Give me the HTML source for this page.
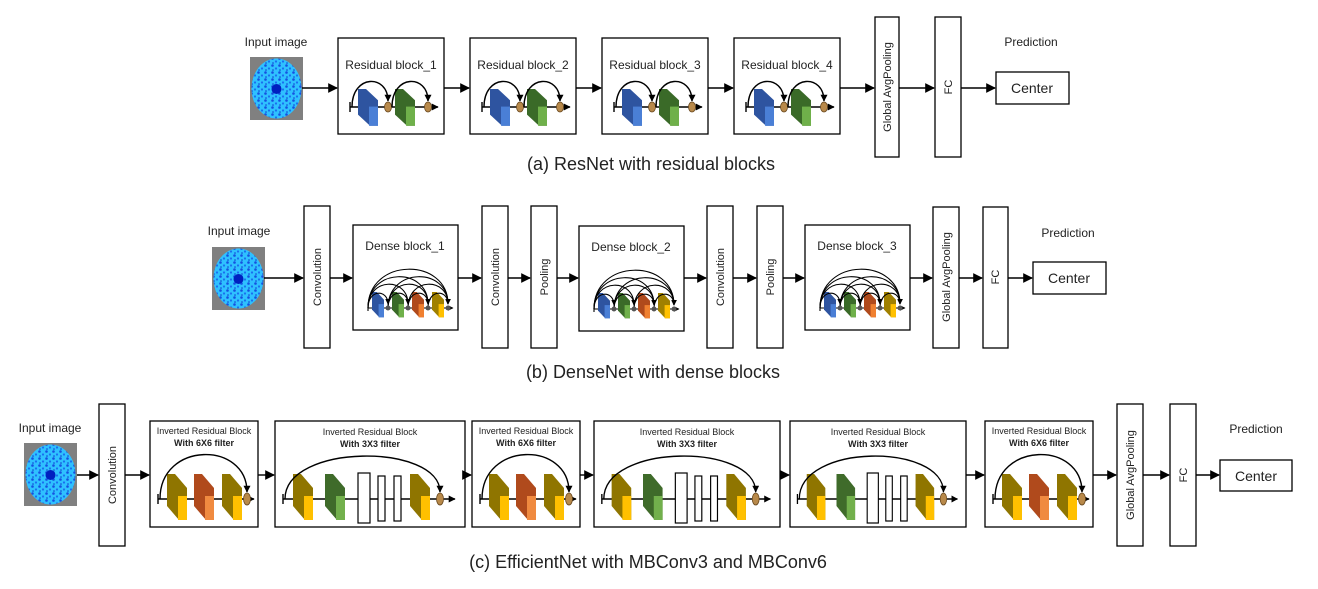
<!DOCTYPE html>
<html><head><meta charset="utf-8"><style>
html,body{margin:0;padding:0;background:#fff;}
svg{display:block;}
text{font-family:"Liberation Sans","DejaVu Sans",sans-serif;fill:#222;}
</style></head><body>
<svg width="1318" height="589" viewBox="0 0 1318 589" xmlns="http://www.w3.org/2000/svg">
<defs>
<marker id="ar" viewBox="0 0 10 10" refX="9" refY="5" markerWidth="7" markerHeight="7" orient="auto-start-reverse"><path d="M0,0 L10,5 L0,10 z" fill="#000"/></marker>
<marker id="sa" viewBox="0 0 10 10" refX="9" refY="5" markerWidth="5" markerHeight="5" orient="auto"><path d="M0,0 L10,5 L0,10 z" fill="#000"/></marker>
<pattern id="spk" width="7" height="7" patternUnits="userSpaceOnUse">
<rect width="7" height="7" fill="#2fc0ff"/>
<circle cx="1.5" cy="1.5" r="1.3" fill="#1550e0"/>
<circle cx="5" cy="4.5" r="1.1" fill="#1a6ef0"/>
<circle cx="2" cy="6" r="0.8" fill="#0d3fd0"/>
</pattern>
<g id="img">
<rect x="0" y="0" width="53" height="63" fill="#808080"/>
<ellipse cx="26.5" cy="31.5" rx="25" ry="30" fill="url(#spk)"/>
<circle cx="26.5" cy="32" r="5" fill="#0020c0"/>
</g>
<g id="pr">
<polygon points="0,0 8,0 20,14 20,46 12,46 0,32"/>
<rect x="11" y="22" width="9" height="24" fill="currentColor"/>
</g>
<g id="resin" fill="none" stroke="#000" stroke-width="1.4">
<line x1="12" y1="64" x2="12" y2="74"/>
<line x1="12" y1="69" x2="100" y2="69" marker-end="url(#sa)"/>
<use href="#pr" fill="#2e54a0" color="#4a7fd6" stroke="none" transform="translate(20,51) scale(1,0.8)"/>
<use href="#pr" fill="#3a6a28" color="#6fb04a" stroke="none" transform="translate(57,51) scale(1,0.8)"/>
<ellipse cx="50" cy="69" rx="3.5" ry="5" fill="#b8894a" stroke="#6b4a20" stroke-width="0.8"/>
<ellipse cx="90" cy="69" rx="3.5" ry="5" fill="#b8894a" stroke="#6b4a20" stroke-width="0.8"/>
<path d="M14,69 C14,36 50,36 50,63" marker-end="url(#sa)"/>
<path d="M54,69 C54,36 90,36 90,63" marker-end="url(#sa)"/>
</g>
<g id="densein" fill="none" stroke="#000" stroke-width="1.1">
<line x1="15" y1="79" x2="15" y2="86"/>
<line x1="15" y1="83" x2="100" y2="83" marker-end="url(#sa)"/>
<use href="#pr" fill="#2e54a0" color="#4a7fd6" stroke="none" transform="translate(19,67) scale(0.6,0.55)"/>
<use href="#pr" fill="#3a6a28" color="#6fb04a" stroke="none" transform="translate(39,67) scale(0.6,0.55)"/>
<use href="#pr" fill="#b04a1c" color="#f08030" stroke="none" transform="translate(59,67) scale(0.6,0.55)"/>
<use href="#pr" fill="#a08000" color="#ffc000" stroke="none" transform="translate(79,67) scale(0.6,0.55)"/>
<path d="M15,83 C15,64 35,64 35,79" marker-end="url(#sa)"/>
<path d="M15,83 C15,52 55,52 55,79" marker-end="url(#sa)"/>
<path d="M15,83 C15,42 75,42 75,79" marker-end="url(#sa)"/>
<path d="M15,83 C15,32 95,32 95,79" marker-end="url(#sa)"/>
<path d="M35,83 C35,64 55,64 55,79" marker-end="url(#sa)"/>
<path d="M35,83 C35,52 75,52 75,79" marker-end="url(#sa)"/>
<path d="M35,83 C35,42 95,42 95,79" marker-end="url(#sa)"/>
<path d="M55,83 C55,64 75,64 75,79" marker-end="url(#sa)"/>
<path d="M55,83 C55,52 95,52 95,79" marker-end="url(#sa)"/>
<path d="M75,83 C75,64 95,64 95,79" marker-end="url(#sa)"/>
<circle cx="35" cy="83" r="2.5" fill="#555" stroke="none"/>
<circle cx="55" cy="83" r="2.5" fill="#555" stroke="none"/>
<circle cx="75" cy="83" r="2.5" fill="#555" stroke="none"/>
<circle cx="95" cy="83" r="2.5" fill="#555" stroke="none"/>
</g>
<g id="eff6" fill="none" stroke="#000" stroke-width="1.4">
<line x1="8" y1="73" x2="8" y2="83"/>
<line x1="8" y1="78" x2="104" y2="78" marker-end="url(#sa)"/>
<use href="#pr" fill="#8f7500" color="#ffc000" stroke="none" transform="translate(17,53)"/>
<use href="#pr" fill="#b04a1c" color="#f08a40" stroke="none" transform="translate(44,53)"/>
<use href="#pr" fill="#8f7500" color="#ffc000" stroke="none" transform="translate(72,53)"/>
<ellipse cx="97" cy="78" rx="3.5" ry="6" fill="#b8894a" stroke="#6b4a20" stroke-width="0.8"/>
<path d="M10,78 C10,20 97,20 97,71" marker-end="url(#sa)"/>
</g>
<g id="eff3" fill="none" stroke="#000" stroke-width="1.4">
<line x1="8" y1="73" x2="8" y2="83"/>
<line x1="8" y1="78" x2="180" y2="78" marker-end="url(#sa)"/>
<use href="#pr" fill="#8f7500" color="#ffc000" stroke="none" transform="translate(18,53)"/>
<use href="#pr" fill="#3f6b2a" color="#72b04c" stroke="none" transform="translate(50,53)"/>
<rect x="83" y="52" width="12" height="50" fill="#fff" stroke-width="1.2"/>
<rect x="103" y="55" width="7" height="45" fill="#fff" stroke-width="1.2"/>
<rect x="119" y="55" width="7" height="45" fill="#fff" stroke-width="1.2"/>
<use href="#pr" fill="#8f7500" color="#ffc000" stroke="none" transform="translate(135,53)"/>
<ellipse cx="165" cy="78" rx="3.5" ry="6" fill="#b8894a" stroke="#6b4a20" stroke-width="0.8"/>
<path d="M10,78 C10,22 165,22 165,71" marker-end="url(#sa)"/>
</g>
</defs>

<!-- ROW A -->
<text x="276" y="46" font-size="12" text-anchor="middle">Input image</text>
<use href="#img" transform="translate(250,57)"/>
<g fill="#fff" stroke="#000" stroke-width="1.3">
<rect x="338" y="38" width="106" height="96"/>
<rect x="470" y="38" width="106" height="96"/>
<rect x="602" y="38" width="106" height="96"/>
<rect x="734" y="38" width="106" height="96"/>
<rect x="875" y="17" width="24" height="140"/>
<rect x="935" y="17" width="26" height="140"/>
<rect x="996" y="72" width="73" height="32"/>
</g>
<text x="391" y="69" font-size="12" text-anchor="middle">Residual block_1</text>
<text x="523" y="69" font-size="12" text-anchor="middle">Residual block_2</text>
<text x="655" y="69" font-size="12" text-anchor="middle">Residual block_3</text>
<text x="787" y="69" font-size="12" text-anchor="middle">Residual block_4</text>
<use href="#resin" transform="translate(338,38)"/>
<use href="#resin" transform="translate(470,38)"/>
<use href="#resin" transform="translate(602,38)"/>
<use href="#resin" transform="translate(734,38)"/>
<text transform="translate(891,87) rotate(-90)" font-size="11" text-anchor="middle">Global AvgPooling</text>
<text transform="translate(952,87) rotate(-90)" font-size="11" text-anchor="middle">FC</text>
<text x="1032" y="93" font-size="14" text-anchor="middle">Center</text>
<text x="1031" y="46" font-size="12" text-anchor="middle">Prediction</text>
<g stroke="#000" stroke-width="1.4" marker-end="url(#ar)">
<line x1="302" y1="88" x2="337" y2="88"/>
<line x1="444" y1="88" x2="469" y2="88"/>
<line x1="576" y1="88" x2="601" y2="88"/>
<line x1="708" y1="88" x2="733" y2="88"/>
<line x1="840" y1="88" x2="874" y2="88"/>
<line x1="899" y1="88" x2="934" y2="88"/>
<line x1="961" y1="88" x2="995" y2="88"/>
</g>
<text x="651" y="170" font-size="18" text-anchor="middle">(a) ResNet with residual blocks</text>

<!-- ROW B -->
<text x="239" y="235" font-size="12" text-anchor="middle">Input image</text>
<use href="#img" transform="translate(212,247)"/>
<g fill="#fff" stroke="#000" stroke-width="1.3">
<rect x="304" y="206" width="26" height="142"/>
<rect x="353" y="225" width="105" height="105"/>
<rect x="482" y="206" width="26" height="142"/>
<rect x="531" y="206" width="26" height="142"/>
<rect x="579" y="226" width="105" height="105"/>
<rect x="707" y="206" width="26" height="142"/>
<rect x="757" y="206" width="26" height="142"/>
<rect x="805" y="225" width="105" height="105"/>
<rect x="933" y="207" width="26" height="141"/>
<rect x="983" y="207" width="25" height="141"/>
<rect x="1033" y="262" width="73" height="32"/>
</g>
<text x="405" y="250" font-size="12" text-anchor="middle">Dense block_1</text>
<text x="631" y="251" font-size="12" text-anchor="middle">Dense block_2</text>
<text x="857" y="250" font-size="12" text-anchor="middle">Dense block_3</text>
<use href="#densein" transform="translate(353,225)"/>
<use href="#densein" transform="translate(579,226)"/>
<use href="#densein" transform="translate(805,225)"/>
<g font-size="11" text-anchor="middle">
<text transform="translate(321,277) rotate(-90)">Convolution</text>
<text transform="translate(499,277) rotate(-90)">Convolution</text>
<text transform="translate(548,277) rotate(-90)">Pooling</text>
<text transform="translate(724,277) rotate(-90)">Convolution</text>
<text transform="translate(774,277) rotate(-90)">Pooling</text>
<text transform="translate(950,277) rotate(-90)">Global AvgPooling</text>
<text transform="translate(999,277) rotate(-90)">FC</text>
</g>
<text x="1069" y="283" font-size="14" text-anchor="middle">Center</text>
<text x="1068" y="237" font-size="12" text-anchor="middle">Prediction</text>
<g stroke="#000" stroke-width="1.4" marker-end="url(#ar)">
<line x1="264" y1="278" x2="303" y2="278"/>
<line x1="330" y1="278" x2="352" y2="278"/>
<line x1="458" y1="278" x2="481" y2="278"/>
<line x1="508" y1="278" x2="530" y2="278"/>
<line x1="557" y1="278" x2="578" y2="278"/>
<line x1="684" y1="278" x2="706" y2="278"/>
<line x1="733" y1="278" x2="756" y2="278"/>
<line x1="783" y1="278" x2="804" y2="278"/>
<line x1="910" y1="278" x2="932" y2="278"/>
<line x1="959" y1="278" x2="982" y2="278"/>
<line x1="1008" y1="278" x2="1032" y2="278"/>
</g>
<text x="653" y="378" font-size="18" text-anchor="middle">(b) DenseNet with dense blocks</text>

<!-- ROW C -->
<text x="50" y="432" font-size="12" text-anchor="middle">Input image</text>
<use href="#img" transform="translate(24,443)"/>
<g fill="#fff" stroke="#000" stroke-width="1.3">
<rect x="99" y="404" width="26" height="142"/>
<rect x="150" y="421" width="108" height="106"/>
<rect x="275" y="421" width="190" height="106"/>
<rect x="472" y="421" width="108" height="106"/>
<rect x="594" y="421" width="186" height="106"/>
<rect x="790" y="421" width="176" height="106"/>
<rect x="985" y="421" width="108" height="106"/>
<rect x="1117" y="404" width="26" height="142"/>
<rect x="1170" y="404" width="26" height="142"/>
<rect x="1220" y="460" width="72" height="31"/>
</g>
<g font-size="9" text-anchor="middle">
<text x="204" y="434">Inverted Residual Block</text>
<text x="204" y="446" font-weight="bold">With 6X6 filter</text>
<text x="370" y="435">Inverted Residual Block</text>
<text x="370" y="447" font-weight="bold">With 3X3 filter</text>
<text x="526" y="434">Inverted Residual Block</text>
<text x="526" y="446" font-weight="bold">With 6X6 filter</text>
<text x="687" y="435">Inverted Residual Block</text>
<text x="687" y="447" font-weight="bold">With 3X3 filter</text>
<text x="878" y="435">Inverted Residual Block</text>
<text x="878" y="447" font-weight="bold">With 3X3 filter</text>
<text x="1039" y="434">Inverted Residual Block</text>
<text x="1039" y="446" font-weight="bold">With 6X6 filter</text>
</g>
<use href="#eff6" transform="translate(150,421)"/>
<use href="#eff3" transform="translate(275,421)"/>
<use href="#eff6" transform="translate(472,421)"/>
<use href="#eff3" transform="translate(594,421) scale(0.98,1)"/>
<use href="#eff3" transform="translate(790,421) scale(0.93,1)"/>
<use href="#eff6" transform="translate(985,421)"/>
<g font-size="11" text-anchor="middle">
<text transform="translate(116,475) rotate(-90)">Convolution</text>
<text transform="translate(1134,475) rotate(-90)">Global AvgPooling</text>
<text transform="translate(1187,475) rotate(-90)">FC</text>
</g>
<text x="1256" y="481" font-size="14" text-anchor="middle">Center</text>
<text x="1256" y="433" font-size="12" text-anchor="middle">Prediction</text>
<g stroke="#000" stroke-width="1.4" marker-end="url(#ar)">
<line x1="77" y1="475" x2="98" y2="475"/>
<line x1="125" y1="475" x2="149" y2="475"/>
<line x1="258" y1="475" x2="274" y2="475"/>
<line x1="465" y1="475" x2="471" y2="475"/>
<line x1="580" y1="475" x2="593" y2="475"/>
<line x1="780" y1="475" x2="789" y2="475"/>
<line x1="966" y1="475" x2="984" y2="475"/>
<line x1="1093" y1="475" x2="1116" y2="475"/>
<line x1="1143" y1="475" x2="1169" y2="475"/>
<line x1="1196" y1="475" x2="1219" y2="475"/>
</g>
<text x="648" y="568" font-size="18" text-anchor="middle">(c) EfficientNet with MBConv3 and MBConv6</text>
</svg>
</body></html>
